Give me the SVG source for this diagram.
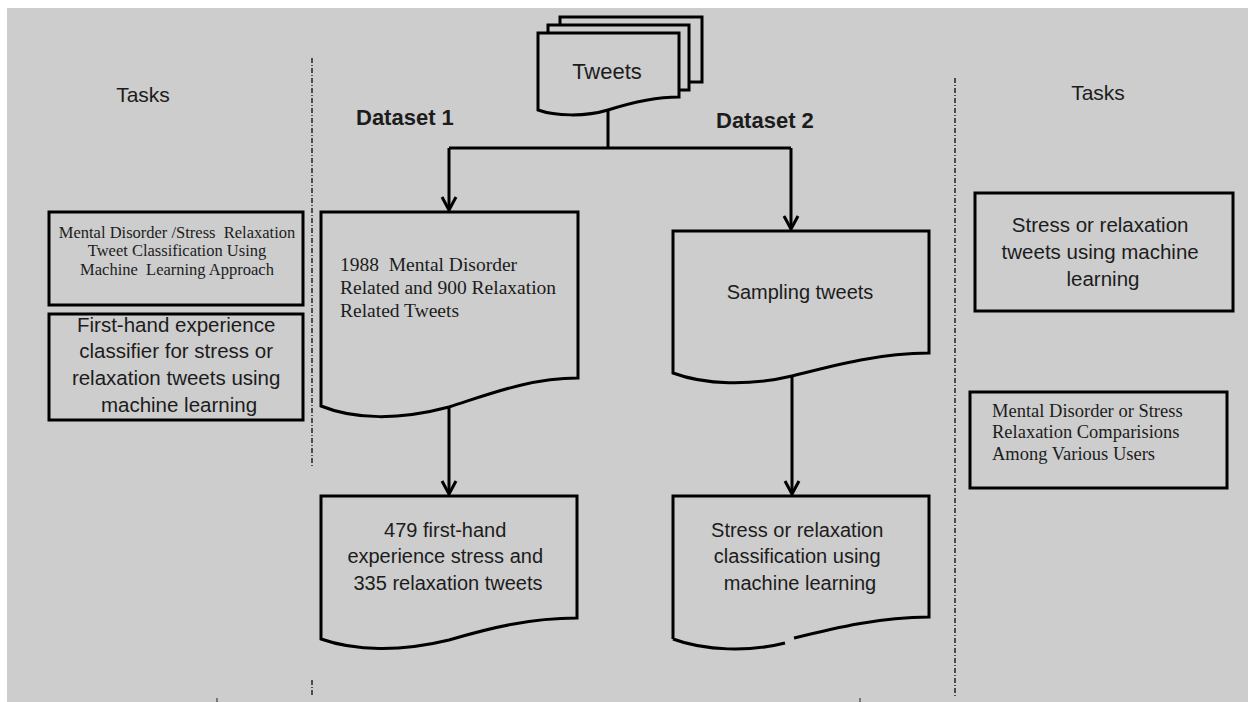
<svg xmlns="http://www.w3.org/2000/svg" width="1248" height="702" viewBox="0 0 1248 702">
  <style>
    .sans { font-family: "Liberation Sans", Arial, sans-serif; fill: #1c1c1c; }
    .serif { font-family: "Liberation Serif", "Times New Roman", serif; fill: #1c1c1c; white-space: pre; }
    .bold { font-weight: bold; }
    .box { fill: #cdcdcd; stroke: #000; stroke-width: 3; }
    .doc { fill: #cdcdcd; stroke: #000; stroke-width: 3; stroke-linejoin: miter; }
    .edge { fill: none; stroke: #000; stroke-width: 3; }
    .divider { fill: none; stroke: #222; stroke-width: 1.5; stroke-dasharray: 5 2 1 2; }
    .tick { stroke: #222; stroke-width: 1; }
  </style>
  <defs>
    <!-- open chevron head; +x points along the line direction -->
    <marker id="arrow" viewBox="-16 -10 18 20" refX="0" refY="0" markerWidth="18" markerHeight="20" markerUnits="userSpaceOnUse" orient="auto" overflow="visible">
      <path d="M-13,-7 L0,0 L-13,7" fill="none" stroke="#000" stroke-width="3"/>
    </marker>
  </defs>

  <!-- page -->
  <rect x="0" y="0" width="1248" height="702" fill="#ffffff"/>
  <rect x="7" y="8" width="1241" height="694" fill="#cdcdcd"/>

  <!-- column dividers -->
  <g id="dividers">
    <line class="divider" x1="312" y1="58" x2="312" y2="467"/>
    <line class="divider" x1="312" y1="680" x2="312" y2="697"/>
    <line class="divider" x1="955" y1="78" x2="955" y2="697"/>
    <line class="tick" x1="217" y1="698" x2="217" y2="702"/>
    <line class="tick" x1="860" y1="698" x2="860" y2="702"/>
  </g>

  <!-- headings -->
  <g id="headings">
    <text class="sans" x="143" y="102" font-size="21" text-anchor="middle">Tasks</text>
    <text class="sans" x="1098" y="100" font-size="21" text-anchor="middle">Tasks</text>
    <text class="sans bold" x="356" y="125" font-size="22">Dataset 1</text>
    <text class="sans bold" x="716" y="128" font-size="22">Dataset 2</text>
  </g>

  <!-- tweets source: stacked documents -->
  <g id="tweets">
    <rect class="box" x="560" y="17" width="142" height="65"/>
    <rect class="box" x="548" y="25" width="141" height="65"/>
    <path class="doc" d="M538,33 H679 V97 C655,97 630,103 608,110 C585,117 555,116 538,110 Z"/>
    <text class="sans" x="607" y="79" font-size="22" text-anchor="middle">Tweets</text>
  </g>

  <!-- connectors -->
  <g id="connectors">
    <path class="edge" d="M608,110 V148"/>
    <path class="edge" d="M449,148 H791"/>
    <path class="edge" d="M449,148 V210" marker-end="url(#arrow)"/>
    <path class="edge" d="M791,148 V229" marker-end="url(#arrow)"/>
    <path class="edge" d="M449,407 V494" marker-end="url(#arrow)"/>
    <path class="edge" d="M792,376 V494" marker-end="url(#arrow)"/>
  </g>

  <!-- dataset 1 -->
  <g id="dataset1-raw">
    <path class="doc" d="M321,212 H578 V378 C530,378 490,394 449,407 C400,420 355,420 321,406 Z"/>
    <text class="serif" font-size="19.5" x="340" y="271">1988  Mental Disorder</text>
    <text class="serif" font-size="19.5" x="340" y="294">Related and 900 Relaxation</text>
    <text class="serif" font-size="19.5" x="340" y="317">Related Tweets</text>
  </g>

  <g id="dataset1-firsthand">
    <path class="doc" d="M321,496 H577 V618 C530,618 490,628 449,640 C400,652 355,651 321,639 Z"/>
    <text class="sans" font-size="20" text-anchor="middle">
      <tspan x="448" y="537">479 first-hand</tspan>
      <tspan x="448" y="563">experience stress and</tspan>
      <tspan x="448" y="590">335 relaxation tweets</tspan>
    </text>
  </g>

  <!-- dataset 2 -->
  <g id="dataset2-sampling">
    <path class="doc" d="M673,231 H929 V353 C880,353 835,365 792,376 C750,386 705,385 673,373 Z"/>
    <text class="sans" x="800" y="299" font-size="20" text-anchor="middle">Sampling tweets</text>
  </g>

  <g id="dataset2-classification">
    <path fill="#cdcdcd" stroke="none" d="M673,496 H929 V617 C880,617 835,630 792,641 C750,652 705,651 673,639 Z"/>
    <path class="edge" d="M673,639 V496 H929 V617 C880,617 835,628 794,638 M785,643 C750,652 705,651 673,639"/>
    <text class="sans" font-size="20" text-anchor="middle">
      <tspan x="800" y="537">Stress or relaxation</tspan>
      <tspan x="800" y="563">classification using</tspan>
      <tspan x="800" y="590">machine learning</tspan>
    </text>
  </g>

  <!-- left tasks -->
  <g id="task-mental-disorder">
    <rect class="box" x="49" y="212" width="254" height="93"/>
    <text class="serif" font-size="16.5" text-anchor="middle" x="177" y="238">Mental Disorder /Stress  Relaxation</text>
    <text class="serif" font-size="16.5" text-anchor="middle" x="177" y="256">Tweet Classification Using</text>
    <text class="serif" font-size="16.5" text-anchor="middle" x="177" y="275">Machine  Learning Approach</text>
  </g>

  <g id="task-first-hand">
    <rect class="box" x="49" y="314" width="254" height="106"/>
    <text class="sans" font-size="20.5" text-anchor="middle">
      <tspan x="179" y="332">First-hand experience</tspan>
      <tspan x="179" y="358">classifier for stress or</tspan>
      <tspan x="179" y="385">relaxation tweets using</tspan>
      <tspan x="179" y="412">machine learning</tspan>
    </text>
  </g>

  <!-- right tasks -->
  <g id="task-stress-relaxation">
    <rect class="box" x="975" y="193" width="258" height="118"/>
    <text class="sans" font-size="20.5" text-anchor="middle">
      <tspan x="1103" y="232">Stress or relaxation</tspan>
      <tspan x="1103" y="259">tweets using machine</tspan>
      <tspan x="1103" y="286">learning</tspan>
    </text>
  </g>

  <g id="task-comparisons">
    <rect class="box" x="970" y="392" width="257" height="96"/>
    <text class="serif" font-size="18.5" x="992" y="417">Mental Disorder or Stress</text>
    <text class="serif" font-size="18.5" x="992" y="438">Relaxation Comparisions</text>
    <text class="serif" font-size="18.5" x="992" y="460">Among Various Users</text>
  </g>
</svg>
